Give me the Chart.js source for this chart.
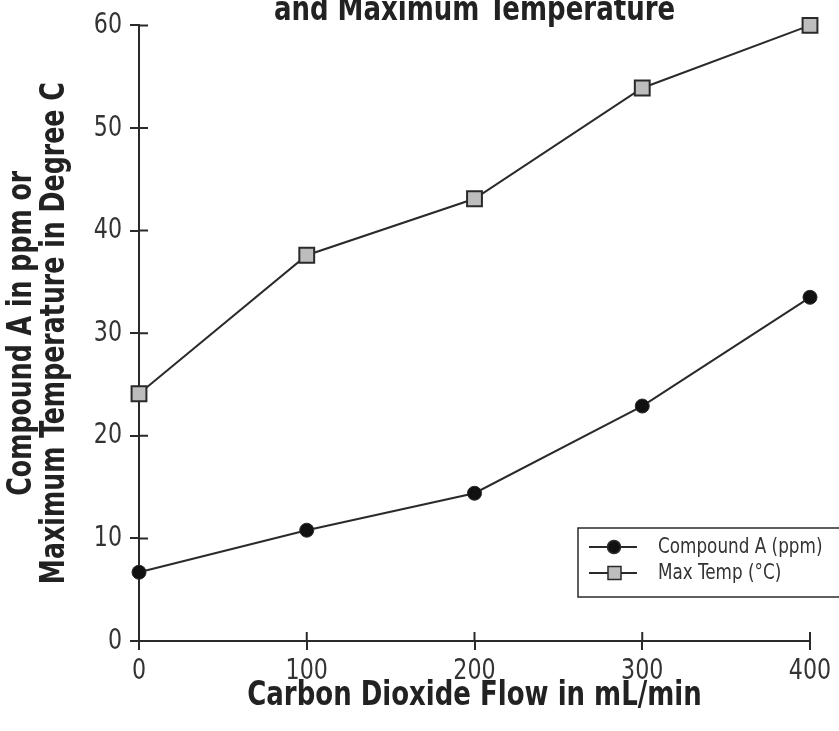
<!DOCTYPE html>
<html>
<head>
<meta charset="utf-8">
<script src="https://cdn.jsdelivr.net/npm/chart.js@4.4.1/dist/chart.umd.min.js"></script>
<style>
  html, body { margin: 0; padding: 0; background: #fff; }
  #wrap { width: 839px; height: 731px; overflow: hidden; }
</style>
</head>
<body>
<div id="wrap"><canvas id="co2Chart" width="839" height="731"></canvas></div>
<script>
// data
const flowValues = [0, 100, 200, 300, 400];
const compoundA = [6.7, 10.8, 14.4, 22.9, 33.5];
const maxTemp = [24.1, 37.6, 43.1, 53.9, 60.0];
const xTicks = [0, 100, 200, 300, 400];
const yTicks = [0, 10, 20, 30, 40, 50, 60];
const seriesNames = ['Compound A (ppm)', 'Max Temp (°C)'];
const titleText = 'and Maximum Temperature';
const xTitle = 'Carbon Dioxide Flow in mL/min';
const yTitle = ['Compound A in ppm or', 'Maximum Temperature in Degree C'];

const FONT = '"DejaVu Sans Condensed", "DejaVu Sans", sans-serif';
const INK = '#2a2a2a';
const TICK = 9;
const SQUEEZE = 0.85; // the original uses a narrow face, so squeeze text a bit

function toPoints(values) {
    return flowValues.map((x, i) => ({ x: x, y: values[i] }));
}

// ticks that cross the axis line (the library only draws the outer half)
const innerTicks = {
    id: 'innerTicks',
    afterDraw(chart) {
        const ctx = chart.ctx;
        const xs = chart.scales.x, ys = chart.scales.y;
        ctx.save();
        ctx.strokeStyle = INK;
        ctx.lineWidth = 2;
        ctx.beginPath();
        xTicks.forEach(v => {
            const px = xs.getPixelForValue(v);
            ctx.moveTo(px, ys.bottom);
            ctx.lineTo(px, ys.bottom - TICK);
        });
        yTicks.forEach(v => {
            const py = ys.getPixelForValue(v);
            ctx.moveTo(xs.left, py);
            ctx.lineTo(xs.left + TICK, py);
        });
        ctx.stroke();
        ctx.restore();
    }
};

// title, partly cut off at the top edge
const topTitle = {
    id: 'topTitle',
    beforeDraw(chart) {
        const ctx = chart.ctx;
        const area = chart.chartArea;
        ctx.save();
        ctx.font = 'bold 34px ' + FONT;
        ctx.fillStyle = '#222';
        ctx.textAlign = 'center';
        ctx.textBaseline = 'alphabetic';
        ctx.fillText(titleText, (area.left + area.right) / 2, area.top - 5);
        ctx.restore();
    }
};

// boxed legend with line + marker symbols, bottom right inside the plot
const boxLegend = {
    id: 'boxLegend',
    afterDraw(chart) {
        const ctx = chart.ctx;
        const area = chart.chartArea;
        const left = area.right - 232;
        const top = area.bottom - 113;
        ctx.save();
        ctx.fillStyle = '#fff';
        ctx.fillRect(left, top, 300, 69);
        ctx.strokeStyle = INK;
        ctx.lineWidth = 1.5;
        ctx.strokeRect(left, top, 300, 69);
        chart.data.datasets.forEach((ds, i) => {
            const cy = top + 19 + i * 26;
            ctx.strokeStyle = INK;
            ctx.lineWidth = 2;
            ctx.beginPath();
            ctx.moveTo(left + 11, cy);
            ctx.lineTo(left + 59, cy);
            ctx.stroke();
            ctx.fillStyle = ds.backgroundColor;
            ctx.strokeStyle = ds.borderColor;
            ctx.lineWidth = 1.5;
            ctx.beginPath();
            if (ds.pointStyle === 'circle') {
                ctx.arc(left + 36, cy, 6.5, 0, Math.PI * 2);
            } else {
                ctx.rect(left + 30, cy - 6.5, 13, 13);
            }
            ctx.fill();
            ctx.stroke();
            ctx.fillStyle = '#333';
            ctx.font = '22px ' + FONT;
            ctx.textAlign = 'left';
            ctx.textBaseline = 'middle';
            ctx.fillText(ds.label, left + 80, cy);
        });
        ctx.restore();
    }
};

const ctx = document.getElementById('co2Chart').getContext('2d');
const plainFillText = ctx.fillText.bind(ctx);
ctx.fillText = function(text, x, y, maxWidth) {
    this.save();
    this.translate(x, y);
    this.scale(SQUEEZE, 1);
    if (maxWidth === undefined) {
        plainFillText(text, 0, 0);
    } else {
        plainFillText(text, 0, 0, maxWidth / SQUEEZE);
    }
    this.restore();
};

const co2Chart = new Chart(ctx, {
    type: 'line',
    data: {
        datasets: [
            {
                label: seriesNames[0],
                data: toPoints(compoundA),
                borderColor: INK,
                backgroundColor: '#111',
                borderWidth: 2,
                pointStyle: 'circle',
                pointRadius: 7,
                pointBorderWidth: 1,
                tension: 0,
                clip: false
            },
            {
                label: seriesNames[1],
                data: toPoints(maxTemp),
                borderColor: INK,
                backgroundColor: '#bdbdbd',
                borderWidth: 2,
                pointStyle: 'rect',
                pointRadius: 10.5,
                pointBorderWidth: 2,
                tension: 0,
                clip: false
            }
        ]
    },
    options: {
        responsive: false,
        animation: false,
        layout: { autoPadding: false, padding: { top: 22, right: 29, left: 0, bottom: 0 } },
        plugins: {
            legend: { display: false },
            tooltip: { enabled: false }
        },
        scales: {
            x: {
                type: 'linear',
                min: 0,
                max: 400,
                afterBuildTicks: s => { s.ticks = xTicks.map(v => ({ value: v })); },
                afterFit: s => { s.height = 90; },
                grid: { drawOnChartArea: false, drawTicks: true, tickLength: TICK, color: INK, lineWidth: 2 },
                border: { display: true, color: INK, width: 2 },
                ticks: { color: '#333', padding: 4, font: { family: FONT, size: 29 } },
                title: {
                    display: true,
                    text: xTitle,
                    color: '#222',
                    font: { family: FONT, size: 34, weight: 'bold', lineHeight: 1.2 },
                    padding: { top: 0, bottom: 14 }
                }
            },
            y: {
                min: 0,
                max: 60,
                afterBuildTicks: s => { s.ticks = yTicks.map(v => ({ value: v })); },
                afterFit: s => { s.width = 139; },
                grid: { drawOnChartArea: false, drawTicks: true, tickLength: TICK, color: INK, lineWidth: 2 },
                border: { display: true, color: INK, width: 2 },
                ticks: { color: '#333', padding: 8, font: { family: FONT, size: 29 } },
                title: {
                    display: true,
                    text: yTitle,
                    color: '#222',
                    font: { family: FONT, size: 33, weight: 'bold', lineHeight: 1.0 },
                    padding: { top: 6, bottom: 0 }
                }
            }
        }
    },
    plugins: [topTitle, innerTicks, boxLegend]
});
</script>
</body>
</html>
